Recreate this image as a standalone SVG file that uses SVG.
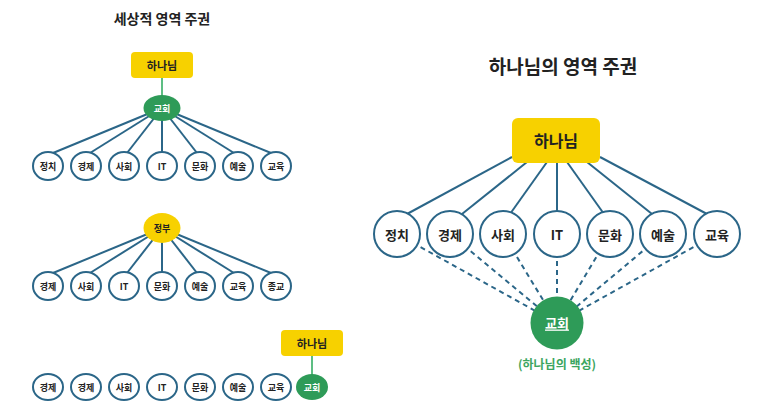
<svg xmlns="http://www.w3.org/2000/svg" width="758" height="419" viewBox="0 0 758 419">
<style>
text{font-family:"Noto Sans CJK KR","Noto Sans",sans-serif;font-weight:bold;text-anchor:middle;dominant-baseline:central;fill:#222}
.ln{stroke:#2B6688;stroke-width:2;fill:none}
.ds{stroke:#2B6688;stroke-width:2;fill:none;stroke-dasharray:5 4}
.gl{stroke:#5DBE83;stroke-width:2}
.sn{fill:#fff;stroke:#2B6688;stroke-width:2}
.yb{fill:#F7D100}
.gn{fill:#2E9B58}
.s{font-size:9px}
.m{font-size:13px}
.w{fill:#fff}
</style>
<rect width="758" height="419" fill="#fff"/>
<text x="162" y="18" style="font-size:14px">세상적 영역 주권</text>
<text x="563" y="65" style="font-size:19px">하나님의 영역 주권</text>
<g id="connectors">
<line class="gl" x1="162" y1="78" x2="162" y2="98"/>
<line class="ln" x1="162" y1="108" x2="53" y2="153"/>
<line class="ln" x1="162" y1="108" x2="90" y2="153"/>
<line class="ln" x1="162" y1="108" x2="127" y2="153"/>
<line class="ln" x1="162" y1="108" x2="162" y2="153"/>
<line class="ln" x1="162" y1="108" x2="197" y2="153"/>
<line class="ln" x1="162" y1="108" x2="234" y2="153"/>
<line class="ln" x1="162" y1="108" x2="271" y2="153"/>
<line class="ln" x1="162" y1="228" x2="53" y2="273"/>
<line class="ln" x1="162" y1="228" x2="90" y2="273"/>
<line class="ln" x1="162" y1="228" x2="127" y2="273"/>
<line class="ln" x1="162" y1="228" x2="162" y2="273"/>
<line class="ln" x1="162" y1="228" x2="197" y2="273"/>
<line class="ln" x1="162" y1="228" x2="234" y2="273"/>
<line class="ln" x1="162" y1="228" x2="271" y2="273"/>
<line class="gl" x1="312" y1="356" x2="312" y2="375"/>
<line class="ln" x1="512" y1="157" x2="407" y2="214"/>
<line class="ln" x1="527" y1="162" x2="462" y2="214"/>
<line class="ln" x1="547" y1="162" x2="510" y2="214"/>
<line class="ln" x1="557" y1="162" x2="557" y2="214"/>
<line class="ln" x1="567" y1="162" x2="604" y2="214"/>
<line class="ln" x1="587" y1="162" x2="652" y2="214"/>
<line class="ln" x1="600" y1="157" x2="707" y2="214"/>
<line class="ds" x1="397" y1="234" x2="557" y2="323"/>
<line class="ds" x1="450" y1="234" x2="557" y2="323"/>
<line class="ds" x1="503" y1="234" x2="557" y2="323"/>
<line class="ds" x1="557" y1="234" x2="557" y2="323"/>
<line class="ds" x1="610" y1="234" x2="557" y2="323"/>
<line class="ds" x1="663" y1="234" x2="557" y2="323"/>
<line class="ds" x1="717" y1="234" x2="557" y2="323"/>
</g>
<g id="n-god1"><rect class="yb" x="131" y="52" width="62" height="26" rx="4"/><text x="162" y="65" style="font-size:11px">하나님</text></g>
<g id="n-church1"><ellipse class="gn" cx="162" cy="108" rx="18.5" ry="13"/><text class="s w" x="162" y="108">교회</text></g>
<g id="n-r1-1"><ellipse class="sn" cx="48" cy="166" rx="15" ry="14"/><text class="s" x="48" y="166">정치</text></g>
<g id="n-r1-2"><ellipse class="sn" cx="86" cy="166" rx="15" ry="14"/><text class="s" x="86" y="166">경제</text></g>
<g id="n-r1-3"><ellipse class="sn" cx="124" cy="166" rx="15" ry="14"/><text class="s" x="124" y="166">사회</text></g>
<g id="n-r1-4"><ellipse class="sn" cx="162" cy="166" rx="15" ry="14"/><text class="s" x="162" y="166">IT</text></g>
<g id="n-r1-5"><ellipse class="sn" cx="200" cy="166" rx="15" ry="14"/><text class="s" x="200" y="166">문화</text></g>
<g id="n-r1-6"><ellipse class="sn" cx="238" cy="166" rx="15" ry="14"/><text class="s" x="238" y="166">예술</text></g>
<g id="n-r1-7"><ellipse class="sn" cx="276" cy="166" rx="15" ry="14"/><text class="s" x="276" y="166">교육</text></g>
<g id="n-gov"><ellipse class="yb" cx="162" cy="228" rx="18.5" ry="15"/><text class="s" x="162" y="228">정부</text></g>
<g id="n-r2-1"><ellipse class="sn" cx="48" cy="286" rx="15" ry="14"/><text class="s" x="48" y="286">경제</text></g>
<g id="n-r2-2"><ellipse class="sn" cx="86" cy="286" rx="15" ry="14"/><text class="s" x="86" y="286">사회</text></g>
<g id="n-r2-3"><ellipse class="sn" cx="124" cy="286" rx="15" ry="14"/><text class="s" x="124" y="286">IT</text></g>
<g id="n-r2-4"><ellipse class="sn" cx="162" cy="286" rx="15" ry="14"/><text class="s" x="162" y="286">문화</text></g>
<g id="n-r2-5"><ellipse class="sn" cx="200" cy="286" rx="15" ry="14"/><text class="s" x="200" y="286">예술</text></g>
<g id="n-r2-6"><ellipse class="sn" cx="238" cy="286" rx="15" ry="14"/><text class="s" x="238" y="286">교육</text></g>
<g id="n-r2-7"><ellipse class="sn" cx="276" cy="286" rx="15" ry="14"/><text class="s" x="276" y="286">종교</text></g>
<g id="n-god3"><rect class="yb" x="281" y="330" width="62" height="26" rx="4"/><text x="312" y="343" style="font-size:11px">하나님</text></g>
<g id="n-r3-1"><ellipse class="sn" cx="48" cy="387" rx="15" ry="13"/><text class="s" x="48" y="387">경제</text></g>
<g id="n-r3-2"><ellipse class="sn" cx="86" cy="387" rx="15" ry="13"/><text class="s" x="86" y="387">경제</text></g>
<g id="n-r3-3"><ellipse class="sn" cx="124" cy="387" rx="15" ry="13"/><text class="s" x="124" y="387">사회</text></g>
<g id="n-r3-4"><ellipse class="sn" cx="162" cy="387" rx="15" ry="13"/><text class="s" x="162" y="387">IT</text></g>
<g id="n-r3-5"><ellipse class="sn" cx="200" cy="387" rx="15" ry="13"/><text class="s" x="200" y="387">문화</text></g>
<g id="n-r3-6"><ellipse class="sn" cx="238" cy="387" rx="15" ry="13"/><text class="s" x="238" y="387">예술</text></g>
<g id="n-r3-7"><ellipse class="sn" cx="276" cy="387" rx="15" ry="13"/><text class="s" x="276" y="387">교육</text></g>
<g id="n-church3"><ellipse class="gn" cx="312" cy="387" rx="16" ry="13"/><text class="s w" x="312" y="387">교회</text></g>
<g id="n-god"><rect class="yb" x="512" y="118" width="88" height="45" rx="6"/><text x="556" y="140" style="font-size:16px">하나님</text></g>
<g id="n-c1"><circle class="sn" cx="397" cy="234" r="23"/><text class="m" x="397" y="234">정치</text></g>
<g id="n-c2"><circle class="sn" cx="450" cy="234" r="23"/><text class="m" x="450" y="234">경제</text></g>
<g id="n-c3"><circle class="sn" cx="503" cy="234" r="23"/><text class="m" x="503" y="234">사회</text></g>
<g id="n-c4"><circle class="sn" cx="557" cy="234" r="23"/><text class="m" x="557" y="234">IT</text></g>
<g id="n-c5"><circle class="sn" cx="610" cy="234" r="23"/><text class="m" x="610" y="234">문화</text></g>
<g id="n-c6"><circle class="sn" cx="663" cy="234" r="23"/><text class="m" x="663" y="234">예술</text></g>
<g id="n-c7"><circle class="sn" cx="717" cy="234" r="23"/><text class="m" x="717" y="234">교육</text></g>
<g id="n-church"><circle class="gn" cx="557" cy="323" r="26.5"/><text class="m w" x="557" y="322" style="text-decoration:underline">교회</text><text x="557" y="363" style="font-size:12px;fill:#3BA560">(하나님의 백성)</text></g>
</svg>
